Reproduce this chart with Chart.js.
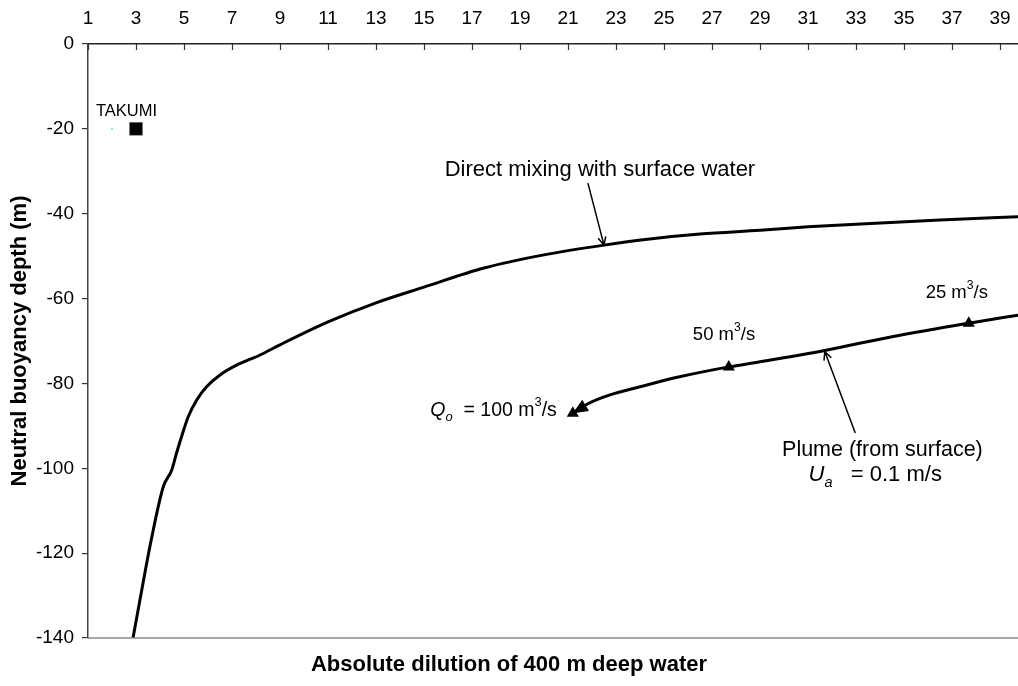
<!DOCTYPE html>
<html>
<head>
<meta charset="utf-8">
<script src="https://cdn.jsdelivr.net/npm/chart.js@4.4.1/dist/chart.umd.min.js"></script>
<style>
  html, body { margin:0; padding:0; background:#fff; }
  #wrap { width:1018px; height:686px; }
</style>
</head>
<body>
<div id="wrap"><canvas id="c" width="1018" height="686"></canvas></div>
<script>
// ---------- dados ----------
const X_TICKS = [1,3,5,7,9,11,13,15,17,19,21,23,25,27,29,31,33,35,37,39];
const Y_TICKS = [0,-20,-40,-60,-80,-100,-120,-140];

// mistura direta com água de superfície
const MIX_X = [2.875,3.24,3.63,4.14,4.49,4.69,4.9,5.18,5.53,5.94,6.5,7.19,8.17,9,11,13,15,17.5,20,22.5,24.5,26.5,29,31,33.2,36.5,39.75];
const MIX_Y = [-140,-128.7,-117,-104.3,-100.4,-96.4,-92.5,-87.8,-83.9,-80.8,-78,-75.7,-73.3,-70.9,-65.5,-61,-57.3,-52.8,-49.7,-47.4,-45.9,-44.8,-43.9,-43.1,-42.4,-41.5,-40.7];

// pluma (da superfície)
const PLUME_X = [21.2,21.9,22.75,24,25.6,27.7,29,31.8,34.5,37.7,39.75];
const PLUME_Y = [-87,-84.6,-82.7,-80.8,-78.5,-76.1,-74.9,-72.1,-69,-65.8,-63.9];

// vazões marcadas (triângulos)
const Q_X = [21.2,27.7,37.7];
const Q_Y = [-87,-76.1,-65.8];
const Q_LABELS = ['100','50','25'];

const TAKUMI_X = [3];
const TAKUMI_Y = [-20];
const REF_X = [2];
const REF_Y = [-20];

const FONT = "'Liberation Sans', Arial, sans-serif";
const pts = (xs, ys)=> xs.map((x,i)=>({ x, y: ys[i] }));

// ---------- texto com sub/sobrescrito ----------
function segFont(s, size){
  const fs = (s.sub||s.sup) ? size*0.66 : size;
  return `${s.it?'italic ':''}${fs}px ${FONT}`;
}
function richWidth(ctx, segs, size){
  let w = 0;
  segs.forEach(s=>{ ctx.font = segFont(s,size); w += ctx.measureText(s.t).width; });
  return w;
}
function drawRich(ctx, segs, x, y, size, align){
  let cx = x;
  if(align==='center') cx = x - richWidth(ctx, segs, size)/2;
  ctx.textBaseline = 'middle';
  ctx.textAlign = 'left';
  ctx.fillStyle = '#000';
  segs.forEach(s=>{
    ctx.font = segFont(s,size);
    let dy = 0;
    if(s.sub) dy = size*0.35;
    if(s.sup) dy = -size*0.38;
    ctx.fillText(s.t, cx, y+dy);
    cx += ctx.measureText(s.t).width;
  });
}

function arrowOpen(ctx, x0,y0,x1,y1){
  const a = Math.atan2(y1-y0, x1-x0), L = 9, sp = 0.45;
  ctx.beginPath();
  ctx.moveTo(x0,y0); ctx.lineTo(x1,y1);
  ctx.moveTo(x1 - L*Math.cos(a-sp), y1 - L*Math.sin(a-sp));
  ctx.lineTo(x1,y1);
  ctx.lineTo(x1 - L*Math.cos(a+sp), y1 - L*Math.sin(a+sp));
  ctx.stroke();
}

// anotações em coordenadas de dados
const NOTES = [
  { x:1.33,  y:-15.8, size:16.5, align:'left',   segs:[{t:'TAKUMI'}] },
  { x:22.33, y:-29.7, size:22, align:'center', segs:[{t:'Direct mixing with surface water'}] },
  { x:17.9,  y:-86.3, size:19.5, align:'center', segs:[{t:'Q',it:1},{t:'o',it:1,sub:1},{t:'  = '+Q_LABELS[0]+' m'},{t:'3',sup:1},{t:'/s'}] },
  { x:27.5,  y:-68.6, size:18.5, align:'center', segs:[{t:Q_LABELS[1]+' m'},{t:'3',sup:1},{t:'/s'}] },
  { x:37.2,  y:-58.7, size:18.5, align:'center', segs:[{t:Q_LABELS[2]+' m'},{t:'3',sup:1},{t:'/s'}] },
  { x:34.1,  y:-95.7, size:21.5, align:'center', segs:[{t:'Plume (from surface)'}] },
  { x:33.8,  y:-101.6,size:22, align:'center', segs:[{t:'U',it:1},{t:'a',it:1,sub:1},{t:'   = 0.1 m/s'}] }
];
const ARROWS = [
  { from:[21.83,-32.8], to:[22.5,-47.4] },
  { from:[32.97,-91.7], to:[31.7,-72.5] }
];

const decor = {
  id:'decor',
  afterDatasetsDraw(chart){
    const { ctx, chartArea:a, scales:{ x, y } } = chart;
    ctx.save();
    // linha inferior cinza
    ctx.strokeStyle = '#8a8a8a'; ctx.lineWidth = 1.5;
    ctx.beginPath(); ctx.moveTo(a.left, y.getPixelForValue(-140)); ctx.lineTo(a.right, y.getPixelForValue(-140)); ctx.stroke();
    // ticks internos do eixo x (topo)
    ctx.strokeStyle = '#333'; ctx.lineWidth = 1.2;
    X_TICKS.forEach(v=>{
      const px = Math.round(x.getPixelForValue(v))+0.5;
      ctx.beginPath(); ctx.moveTo(px, a.top); ctx.lineTo(px, a.top+6); ctx.stroke();
    });
    // ponta de seta no início da pluma
    const p0x = x.getPixelForValue(PLUME_X[0]), p0y = y.getPixelForValue(PLUME_Y[0]);
    const p1x = x.getPixelForValue(PLUME_X[1]), p1y = y.getPixelForValue(PLUME_Y[1]);
    const ang = Math.atan2(p0y-p1y, p0x-p1x), L = 15, W = 6.5;
    ctx.fillStyle = '#000';
    ctx.beginPath();
    ctx.moveTo(p0x, p0y);
    ctx.lineTo(p0x - L*Math.cos(ang) + W*Math.sin(ang), p0y - L*Math.sin(ang) - W*Math.cos(ang));
    ctx.lineTo(p0x - L*Math.cos(ang) - W*Math.sin(ang), p0y - L*Math.sin(ang) + W*Math.cos(ang));
    ctx.closePath(); ctx.fill();
    // setas finas das anotações
    ctx.strokeStyle = '#000'; ctx.lineWidth = 1.5;
    ARROWS.forEach(r=>{
      arrowOpen(ctx, x.getPixelForValue(r.from[0]), y.getPixelForValue(r.from[1]),
                     x.getPixelForValue(r.to[0]),   y.getPixelForValue(r.to[1]));
    });
    // textos
    NOTES.forEach(n=>{
      drawRich(ctx, n.segs, x.getPixelForValue(n.x), y.getPixelForValue(n.y), n.size, n.align);
    });
    // título do eixo x (embaixo)
    ctx.font = `bold 22px ${FONT}`;
    ctx.textAlign = 'center'; ctx.textBaseline = 'middle';
    ctx.fillText('Absolute dilution of 400 m deep water', chart.width/2, 665);
    ctx.restore();
  }
};

new Chart(document.getElementById('c').getContext('2d'), {
  type:'scatter',
  data:{
    datasets:[
      { label:'Direct mixing', data:pts(MIX_X,MIX_Y), showLine:true, borderColor:'#000', borderWidth:3,
        pointRadius:0, cubicInterpolationMode:'monotone' },
      { label:'Plume', data:pts(PLUME_X,PLUME_Y), showLine:true, borderColor:'#000', borderWidth:3,
        pointRadius:0, cubicInterpolationMode:'monotone' },
      { label:'Q', data:pts(Q_X,Q_Y), showLine:false, pointStyle:'triangle', pointRadius:7,
        backgroundColor:'#000', borderColor:'#000', borderWidth:0 },
      { label:'TAKUMI', data:pts(TAKUMI_X,TAKUMI_Y), showLine:false, pointStyle:'rect', pointRadius:9.2,
        backgroundColor:'#000', borderColor:'#000', borderWidth:0 },
      { label:'ref', data:pts(REF_X,REF_Y), showLine:false, pointRadius:1,
        backgroundColor:'#66e0f0', borderWidth:0 }
    ]
  },
  options:{
    responsive:false,
    animation:false,
    layout:{ autoPadding:false, padding:{ left:0, right:0, top:0, bottom:48 } },
    plugins:{ legend:{ display:false }, tooltip:{ enabled:false } },
    scales:{
      x:{
        type:'linear', position:'top', min:1, max:39.75,
        afterBuildTicks: s=>{ s.ticks = X_TICKS.map(v=>({ value:v })); },
        afterFit: s=>{ s.height = 44; s.paddingLeft = 0; s.paddingRight = 0; },
        ticks:{ color:'#000', font:{ family:FONT, size:19 }, padding:6, maxRotation:0, autoSkip:false },
        grid:{ display:false },
        border:{ display:true, color:'#222', width:1.5 }
      },
      y:{
        type:'linear', min:-140, max:0,
        afterBuildTicks: s=>{ s.ticks = Y_TICKS.map(v=>({ value:v })); },
        afterFit: s=>{ s.width = 88; s.paddingTop = 0; s.paddingBottom = 0; },
        ticks:{ color:'#000', font:{ family:FONT, size:19 }, padding:8, autoSkip:false },
        grid:{ drawOnChartArea:false, tickLength:6, color:'#333', lineWidth:1.2 },
        border:{ display:true, color:'#444', width:1.5 },
        title:{ display:true, text:'Neutral buoyancy depth (m)', color:'#000',
                font:{ family:FONT, size:22, weight:'bold' }, padding:{ top:7, bottom:0 } }
      }
    }
  },
  plugins:[decor]
});
</script>
</body>
</html>
